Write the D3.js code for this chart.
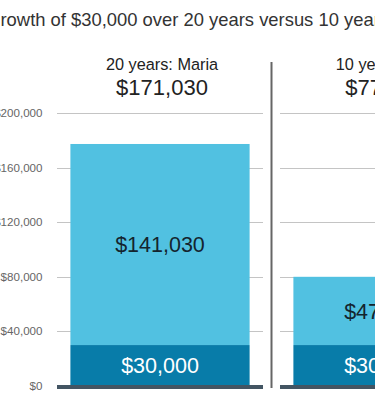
<!DOCTYPE html>
<html>
<head>
<meta charset="utf-8">
<script src="https://cdn.jsdelivr.net/npm/d3@7"></script>
<style>
  html, body { margin: 0; padding: 0; background: #fff; overflow: hidden; }
  svg { display: block; font-family: "Liberation Sans", Arial, Helvetica, sans-serif; }
</style>
</head>
<body>
<svg id="chart"></svg>
<script>
// données
var titre = "Growth of $30,000 over 20 years versus 10 years";
var panneaux = ["20 years: Maria", "10 years: Ava"];
var totaux = ["$171,030", "$77,985"];
var principal = [30000, 30000];
var croissance = [147300, 50000]; // hauteur des barres telle que dessinée
var etiqCroissance = ["$141,030", "$47,985"];
var etiqPrincipal = ["$30,000", "$30,000"];
var graduations = [0, 40000, 80000, 120000, 160000, 200000];

var svg = d3.select("#chart").attr("width", 375).attr("height", 402);

var x = d3.scaleBand()
    .domain(panneaux)
    .range([57, 486])
    .paddingInner(0.0762);

var y = d3.scaleLinear()
    .domain([0, 200000])
    .range([386, 113]);

var fmt = function(d) { return "$" + d3.format(",")(d); };

// titre (coupé à gauche comme sur l'image)
var t = svg.append("text")
    .attr("y", 26)
    .attr("fill", "#333")
    .style("font-size", "18.4px")
    .text("G");
var largG = t.node().getComputedTextLength();
t.attr("x", 0.5 - largG).text(titre);

// lignes de grille par panneau
panneaux.forEach(function(p) {
    svg.append("g")
        .selectAll("line")
        .data(graduations.slice(1))
        .enter().append("line")
        .attr("x1", x(p))
        .attr("x2", x(p) + x.bandwidth())
        .attr("y1", function(d) { return Math.round(y(d)) + 0.5; })
        .attr("y2", function(d) { return Math.round(y(d)) + 0.5; })
        .attr("stroke", "#c4c4c4")
        .attr("stroke-width", 1);
});

// axe gauche
svg.append("g")
    .selectAll("text")
    .data(graduations)
    .enter().append("text")
    .attr("x", 42.5)
    .attr("y", function(d) { return y(d); })
    .attr("dy", "0.35em")
    .attr("text-anchor", "end")
    .attr("fill", "#666")
    .style("font-size", "11.6px")
    .text(fmt);

var inset = 13.4;
var barres = svg.append("g").selectAll("g")
    .data(panneaux)
    .enter().append("g");

barres.append("rect")
    .attr("x", function(d) { return x(d) + inset; })
    .attr("width", x.bandwidth() - 2 * inset)
    .attr("y", function(d, i) { return y(principal[i] + croissance[i]); })
    .attr("height", function(d, i) { return y(principal[i]) - y(principal[i] + croissance[i]); })
    .attr("fill", "#51c1e1");

barres.append("rect")
    .attr("x", function(d) { return x(d) + inset; })
    .attr("width", x.bandwidth() - 2 * inset)
    .attr("y", function(d, i) { return y(principal[i]); })
    .attr("height", function(d, i) { return y(0) - y(principal[i]); })
    .attr("fill", "#087ca9");

barres.append("text")
    .attr("x", function(d) { return x(d) + x.bandwidth() / 2; })
    .attr("y", function(d, i) { return (y(principal[i]) + y(principal[i] + croissance[i])) / 2; })
    .attr("dy", "0.36em")
    .attr("text-anchor", "middle")
    .attr("fill", "#14242e")
    .style("font-size", "21.5px")
    .text(function(d, i) { return etiqCroissance[i]; });

barres.append("text")
    .attr("x", function(d) { return x(d) + x.bandwidth() / 2; })
    .attr("y", function(d, i) { return (y(0) + y(principal[i])) / 2; })
    .attr("dy", "0.36em")
    .attr("text-anchor", "middle")
    .attr("fill", "#fff")
    .style("font-size", "21.5px")
    .text(function(d, i) { return etiqPrincipal[i]; });

// ligne de base
barres.append("rect")
    .attr("x", function(d) { return x(d); })
    .attr("width", x.bandwidth())
    .attr("y", y(0) - 1)
    .attr("height", 4)
    .attr("fill", "#435563");

// en-têtes
barres.append("text")
    .attr("x", function(d) { return x(d) + x.bandwidth() / 2 + 2; })
    .attr("y", 70)
    .attr("text-anchor", "middle")
    .attr("fill", "#222")
    .style("font-size", "16.3px")
    .text(function(d) { return d; });

barres.append("text")
    .attr("x", function(d) { return x(d) + x.bandwidth() / 2 + 2; })
    .attr("y", 95)
    .attr("text-anchor", "middle")
    .attr("fill", "#222")
    .style("font-size", "22px")
    .text(function(d, i) { return totaux[i]; });

// séparateur
var xSep = (x(panneaux[0]) + x.bandwidth() + x(panneaux[1])) / 2;
svg.append("line")
    .attr("x1", xSep).attr("x2", xSep)
    .attr("y1", 62).attr("y2", 388)
    .attr("stroke", "#666")
    .attr("stroke-width", 2);
</script>
</body>
</html>
